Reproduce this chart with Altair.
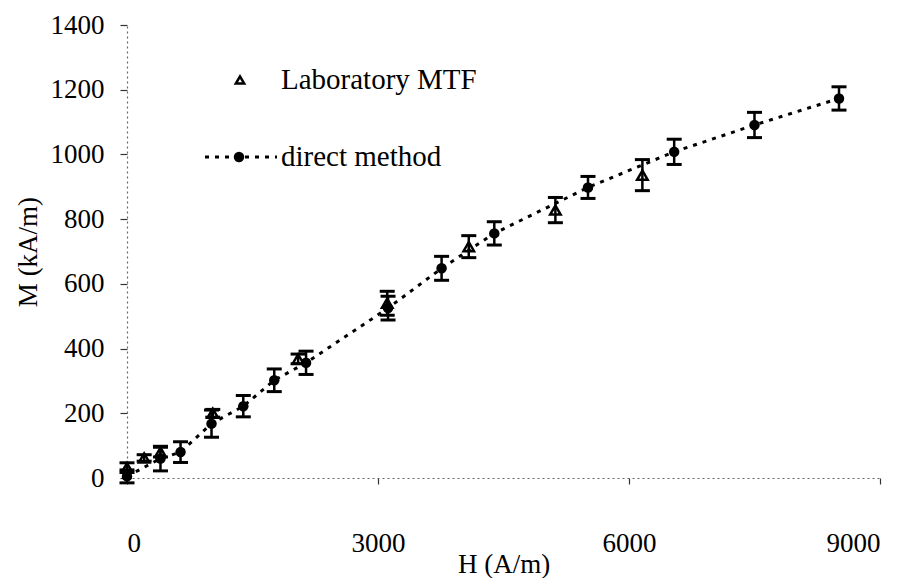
import altair as alt
import pandas as pd

# ---- data ----
H_direct = [0, 400, 640, 1010, 1390, 1760, 2140, 3120, 3760, 4390, 5510, 6540, 7500, 8510]
M_direct = [5, 60, 80, 168, 222, 302, 356, 525, 648, 756, 898, 1008, 1091, 1173]
E_direct = [20, 38, 32, 42, 33, 35, 36, 37, 37, 36, 34, 39, 39, 36]

H_lab = [0, 205, 400, 1025, 2045, 3110, 4085, 5120, 6160]
M_lab = [32, 62, 80, 200, 368, 540, 715, 828, 936]
E_lab = [15, 10, 15, 12, 15, 37, 34, 39, 48]

x_ticks = [0, 3000, 6000, 9000]
y_ticks = [0, 200, 400, 600, 800, 1000, 1200, 1400]

legend_labels = ["Laboratory MTF", "direct method"]

FONT = "'Liberation Serif', 'Times New Roman', Times, serif"

direct = pd.DataFrame({"H": H_direct, "M": M_direct,
                       "lo": [m - e for m, e in zip(M_direct, E_direct)],
                       "hi": [m + e for m, e in zip(M_direct, E_direct)]})
lab = pd.DataFrame({"H": H_lab, "M": M_lab,
                    "lo": [m - e for m, e in zip(M_lab, E_lab)],
                    "hi": [m + e for m, e in zip(M_lab, E_lab)]})

xs = alt.Scale(domain=[0, 9000], nice=False)
ys = alt.Scale(domain=[0, 1400], nice=False)

xax = alt.Axis(values=x_ticks, title="H (A/m)", labelPadding=46, tickSize=6,
               titleBaseline="bottom", titleY=100, format="d")
yax = alt.Axis(values=y_ticks, title="M (kA/m)", labelPadding=16, tickSize=7,
               titlePadding=8, format="d")

X = alt.X("H:Q", scale=xs, axis=xax)
Y = alt.Y("M:Q", scale=ys, axis=yax)


def errbars(df):
    base = alt.Chart(df)
    rule = base.mark_rule(color="black", strokeWidth=2.5, opacity=1).encode(
        x=alt.X("H:Q", scale=xs), y=alt.Y("lo:Q", scale=ys), y2="hi:Q")
    top = base.mark_tick(color="black", thickness=3, size=15, orient="horizontal", opacity=1).encode(
        x=alt.X("H:Q", scale=xs), y=alt.Y("hi:Q", scale=ys))
    bot = base.mark_tick(color="black", thickness=3, size=15, orient="horizontal", opacity=1).encode(
        x=alt.X("H:Q", scale=xs), y=alt.Y("lo:Q", scale=ys))
    return [rule, top, bot]


line = alt.Chart(direct).mark_line(color="black", strokeWidth=3, strokeDash=[4, 6]).encode(x=X, y=Y)
circles = alt.Chart(direct).mark_point(shape="circle", filled=True, color="black",
                                       size=110, opacity=1).encode(x=X, y=Y)
tris = alt.Chart(lab).mark_point(shape="triangle-up", filled=False, color="black",
                                 size=110, strokeWidth=2.5, opacity=1).encode(x=X, y=Y)

# legend
leg = pd.DataFrame({"label": legend_labels})
leg1 = leg.iloc[[0]]
leg2 = leg.iloc[[1]]
leg_tri = alt.Chart(leg1).mark_point(shape="triangle-up", filled=False, color="black",
                                     size=70, strokeWidth=2.5, opacity=1).encode(
    x=alt.value(113), y=alt.value(55))
leg_txt1 = alt.Chart(leg1).mark_text(align="left", baseline="middle", font=FONT,
                                     fontSize=29, color="black").encode(
    x=alt.value(154), y=alt.value(55), text="label:N")
leg_line = alt.Chart(leg2).mark_rule(color="black", strokeWidth=3, strokeDash=[4, 6]).encode(
    x=alt.value(78), x2=alt.value(150), y=alt.value(132))
leg_dot = alt.Chart(leg2).mark_point(shape="circle", filled=True, color="black",
                                     size=110, opacity=1).encode(x=alt.value(112), y=alt.value(132))
leg_txt2 = alt.Chart(leg2).mark_text(align="left", baseline="middle", font=FONT,
                                     fontSize=29, color="black").encode(
    x=alt.value(154), y=alt.value(132), text="label:N")

layers = [line] + errbars(direct) + errbars(lab) + [circles, tris,
                                                    leg_tri, leg_txt1, leg_line, leg_dot, leg_txt2]

chart = alt.layer(*layers).properties(
    width=753, height=453,
    autosize=alt.AutoSizeParams(type="none"),
    padding={"left": 119, "top": 17, "right": 20, "bottom": 100},
).configure_view(stroke=None).configure_axis(
    grid=False,
    domainColor="#666", domainDash=[2, 3], domainWidth=1.2,
    tickColor="#333", tickWidth=1.2,
    labelFont=FONT, labelFontSize=27, labelColor="black",
    titleFont=FONT, titleFontSize=27, titleFontWeight="normal", titleColor="black",
)

chart.save("out.html", embed_options={"renderer": "svg", "actions": False})
